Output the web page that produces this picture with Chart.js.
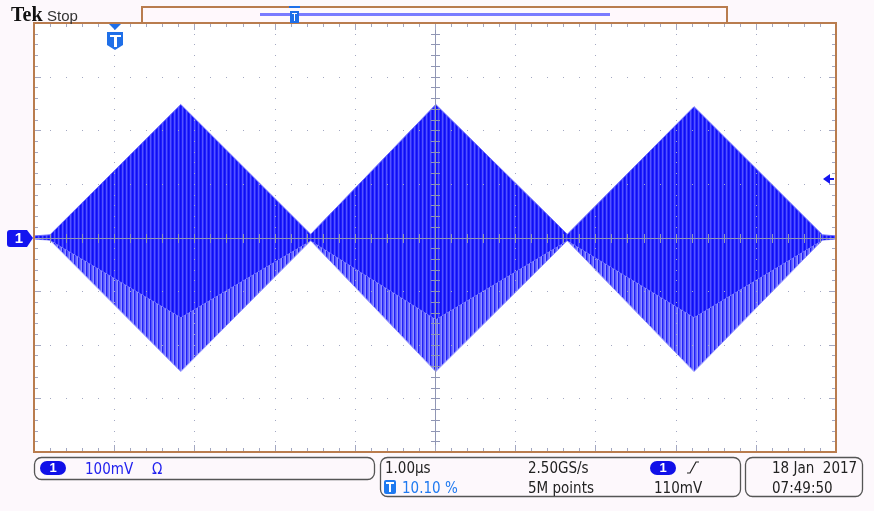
<!DOCTYPE html>
<html><head><meta charset="utf-8">
<script src="https://cdn.jsdelivr.net/npm/chart.js@4/dist/chart.umd.min.js"></script>
<style>
html,body{margin:0;padding:0;background:#fdf8fc;}
#wrap{position:relative;width:874px;height:511px;}
</style></head>
<body><div id="wrap"><canvas id="c" width="874" height="511"></canvas></div>
<script>
// ---- data (time in divisions of 1.00 µs, amplitude in divisions of 100 mV) ----
const envTime      = [0.0, 0.20, 1.83, 3.45, 5.01, 6.65, 8.23, 9.83, 10.0];
const envUpper     = [0.03, 0.05, 2.48, 0.06, 2.48, 0.06, 2.44, 0.05, 0.03];
const envInnerLow  = [-0.03, -0.05, -1.49, -0.06, -1.53, -0.06, -1.49, -0.05, -0.03];
const envOuterLow  = [-0.03, -0.05, -2.50, -0.06, -2.50, -0.06, -2.50, -0.05, -0.03];
const triggerPosDiv = 1.01;   // 10.10 % of record
const triggerLevelDiv = 1.1;  // 110 mV at 100 mV/div
const statusTexts = {
  chScale: "100mV", chCoupling: "Ω", timebase: "1.00µs", trigPos: "10.10 %",
  sampleRate: "2.50GS/s", recLen: "5M points", trigLevel: "110mV",
  date: "18 Jan  2017", time: "07:49:50"
};

function makePattern(cols){
  const p=document.createElement('canvas'); p.width=cols.length; p.height=1;
  const g=p.getContext('2d');
  cols.forEach((c,i)=>{g.fillStyle=c; g.fillRect(i,0,1,1);});
  return p.getContext('2d').createPattern(p,'repeat');
}
const darkPat = makePattern(['#0f0ff2','#1e1eff','#5454ff','#2e2eff']);
const lightPat = makePattern(['#6c6cff','#9292ff','#2020f6','#5050ff']);

const pts = a => envTime.map((t,i)=>({x:t,y:a[i]}));

const GRID='#a3a8c2';
const STATUS_FONT='15px "DejaVu Sans Condensed","Liberation Sans"';
const decor = {
  id:'decor',
  beforeDraw(chart){
    const {ctx,chartArea:a}=chart;
    ctx.save();
    ctx.fillStyle='#fdf8fc'; ctx.fillRect(0,0,chart.width,chart.height);
    ctx.fillStyle='#ffffff'; ctx.fillRect(a.left,a.top,a.right-a.left,a.bottom-a.top);
    ctx.restore();
  },
  afterDatasetsDraw(chart){
    const {ctx,chartArea:a,scales:{x,y}}=chart;
    ctx.save();
    // graticule dots
    ctx.fillStyle=GRID;
    for(let i=1;i<10;i++){ if(i===5) continue; const px=Math.round(x.getPixelForValue(i));
      for(let k=1;k<40;k++){ const py=Math.round(y.getPixelForValue(-4+k*0.2)); ctx.fillRect(px,py,1,1);} }
    for(let j=1;j<8;j++){ if(j===4) continue; const py=Math.round(y.getPixelForValue(-4+j));
      for(let k=1;k<50;k++){ const px=Math.round(x.getPixelForValue(k*0.2)); ctx.fillRect(px,py,1,1);} }
    // center crosshair
    const cx=Math.round(x.getPixelForValue(5)), cy=Math.round(y.getPixelForValue(0));
    ctx.fillStyle='#9096b4';
    ctx.fillRect(cx,a.top,1,a.bottom-a.top);
    ctx.fillRect(a.left,cy,a.right-a.left,1);
    for(let k=1;k<40;k++){ const py=Math.round(y.getPixelForValue(-4+k*0.2)); ctx.fillRect(cx-4,py,9,1);}
    for(let k=1;k<50;k++){ const px=Math.round(x.getPixelForValue(k*0.2)); ctx.fillRect(px,cy-4,1,9);}
    // edge ticks
    ctx.fillStyle=GRID;
    for(let k=1;k<50;k++){ const px=Math.round(x.getPixelForValue(k*0.2)); const L=(k%5===0)?6:3;
      ctx.fillRect(px,a.top+1,1,L); ctx.fillRect(px,a.bottom-1-L,1,L);}
    for(let k=1;k<40;k++){ const py=Math.round(y.getPixelForValue(-4+k*0.2)); const L=(k%5===0)?6:3;
      ctx.fillRect(a.left+1,py,L,1); ctx.fillRect(a.right-1-L,py,L,1);}
    // frame
    ctx.strokeStyle='#b97c4e'; ctx.lineWidth=2;
    ctx.strokeRect(a.left,a.top,a.right-a.left,a.bottom-a.top);
    ctx.restore();

    // header
    ctx.save();
    ctx.fillStyle='#111'; ctx.font='bold 20px "Liberation Serif"'; ctx.textBaseline='alphabetic';
    ctx.fillText('Tek',11,21);
    ctx.fillStyle='#333'; ctx.font='15px "Liberation Sans"'; ctx.fillText('Stop',47,21);
    ctx.fillStyle='#fff8fc'; ctx.fillRect(142,6,585,17);
    ctx.strokeStyle='#b97c4e'; ctx.lineWidth=2; ctx.strokeRect(142,7,585,16);
    ctx.fillStyle='#7a7aff'; ctx.fillRect(260,13,350,3);
    // small T in record view
    ctx.fillStyle='#1f6fe8'; ctx.fillRect(290,11,9,12);
    ctx.fillStyle='#fff'; ctx.fillRect(292,13,5,1); ctx.fillRect(294,13,1,8);
    ctx.fillStyle='#1f6fe8'; ctx.fillRect(289,6,11,2);
    ctx.restore();

    // trigger position marker
    const tx=Math.round(x.getPixelForValue(triggerPosDiv));
    ctx.save();
    ctx.fillStyle='#1f6fe8';
    ctx.beginPath(); ctx.moveTo(tx-6,a.top+1); ctx.lineTo(tx+6,a.top+1); ctx.lineTo(tx,a.top+7); ctx.closePath(); ctx.fill();
    ctx.beginPath(); ctx.moveTo(tx-8,a.top+9); ctx.lineTo(tx+8,a.top+9); ctx.lineTo(tx+8,a.top+22);
    ctx.lineTo(tx,a.top+27); ctx.lineTo(tx-8,a.top+22); ctx.closePath(); ctx.fill();
    ctx.fillStyle='#fff'; ctx.fillRect(tx-5,a.top+12,11,2); ctx.fillRect(tx-1,a.top+12,3,12);
    ctx.restore();

    // channel 1 ground marker
    const gy=Math.round(y.getPixelForValue(0));
    ctx.save();
    ctx.fillStyle='#1414f0';
    ctx.beginPath(); ctx.moveTo(10,gy-8); ctx.lineTo(27,gy-8); ctx.lineTo(33,gy); ctx.lineTo(27,gy+9);
    ctx.lineTo(10,gy+9); ctx.quadraticCurveTo(7,gy+9,7,gy+6); ctx.lineTo(7,gy-5); ctx.quadraticCurveTo(7,gy-8,10,gy-8); ctx.closePath(); ctx.fill();
    ctx.fillStyle='#fff'; ctx.font='bold 15px "Liberation Sans"'; ctx.textAlign='center'; ctx.textBaseline='middle';
    ctx.fillText('1',19,gy+1);
    ctx.restore();

    // trigger level arrow
    const ly=Math.round(y.getPixelForValue(triggerLevelDiv));
    ctx.save();
    ctx.fillStyle='#1414f0';
    ctx.beginPath(); ctx.moveTo(823,ly); ctx.lineTo(830,ly-5); ctx.lineTo(830,ly+5); ctx.closePath(); ctx.fill();
    ctx.fillRect(829,ly-1,5,2);
    ctx.restore();

    // status boxes
    ctx.save();
    function rbox(x0,y0,w,h){ ctx.beginPath(); ctx.roundRect(x0,y0,w,h,7); ctx.stroke(); }
    ctx.strokeStyle='#555'; ctx.lineWidth=1.3;
    rbox(34.5,457.5,340,22); rbox(380.5,457.5,360,39); rbox(745.5,457.5,117,39);
    function pill(x0,y0){ ctx.save(); ctx.fillStyle='#1010e8'; ctx.beginPath(); ctx.roundRect(x0,y0,26,14,7); ctx.fill();
      ctx.fillStyle='#fff'; ctx.font='bold 13px "Liberation Sans"'; ctx.textAlign='center'; ctx.textBaseline='middle'; ctx.fillText('1',x0+13,y0+7.5); ctx.restore(); }
    pill(40,461);
    pill(650,461);
    ctx.textBaseline='alphabetic'; ctx.textAlign='left'; ctx.font=STATUS_FONT;
    ctx.fillStyle='#2222ee'; ctx.fillText(statusTexts.chScale,85,474); ctx.fillText(statusTexts.chCoupling,152,474);
    ctx.fillStyle='#222'; ctx.fillText(statusTexts.timebase,385,473);
    ctx.fillText(statusTexts.sampleRate,528,473); ctx.fillText(statusTexts.recLen,528,493);
    ctx.fillText(statusTexts.trigLevel,654,493);
    ctx.fillText(statusTexts.date,772,473); ctx.fillText(statusTexts.time,772,493);
    // slope symbol
    ctx.strokeStyle='#222'; ctx.lineWidth=1.2; ctx.beginPath(); ctx.moveTo(687,473); ctx.lineTo(690,473); ctx.lineTo(696,462); ctx.lineTo(699,462); ctx.stroke();
    // trigger pos icon
    ctx.fillStyle='#1f7af0'; ctx.beginPath(); ctx.roundRect(384,480,12,14,2); ctx.fill();
    ctx.fillStyle='#fff'; ctx.fillRect(386,482,8,2); ctx.fillRect(389,482,2,10);
    ctx.fillStyle='#1f7af0'; ctx.font=STATUS_FONT; ctx.fillText(statusTexts.trigPos,402,493);
    ctx.restore();
  }
};

new Chart(document.getElementById('c'),{
  type:'line',
  data:{datasets:[
    {data:pts(envUpper), fill:1, backgroundColor:darkPat, borderColor:'#6a6aff', borderWidth:1, pointRadius:0, tension:0},
    {data:pts(envInnerLow), fill:false, borderWidth:0, borderColor:'rgba(0,0,0,0)', pointRadius:0, tension:0},
    {data:pts(envOuterLow), fill:1, backgroundColor:lightPat, borderColor:'#9a9aff', borderWidth:1, pointRadius:0, tension:0}
  ]},
  options:{
    responsive:false, animation:false, devicePixelRatio:1,
    layout:{padding:{left:34,top:23,right:38,bottom:59}},
    plugins:{legend:{display:false},tooltip:{enabled:false}},
    scales:{
      x:{type:'linear',min:0,max:10,display:false},
      y:{type:'linear',min:-4,max:4,display:false}
    }
  },
  plugins:[decor]
});
</script></body></html>
